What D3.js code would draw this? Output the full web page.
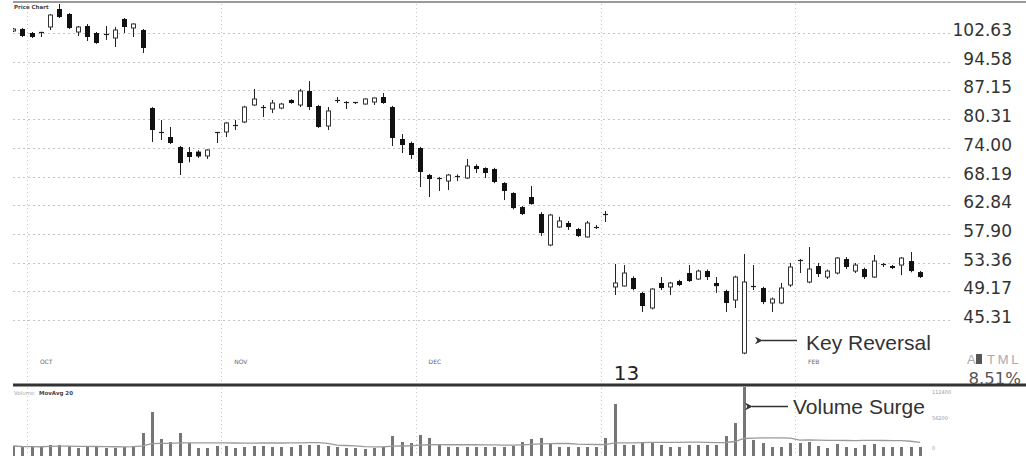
<!DOCTYPE html>
<html><head><meta charset="utf-8">
<script src="https://cdn.jsdelivr.net/npm/d3@7"></script>
<style>html,body{margin:0;padding:0;background:#fff;}svg{display:block;}</style>
</head><body>
<svg id="chart" width="1026" height="456"></svg>
<script>
// ---- data ----
const openP = [103.22,103.81,102.63,102.95,104.40,109.89,108.34,102.92,104.70,102.63,
  102.20,101.18,106.81,104.10,103.51,82.88,77.30,76.31,74.17,73.12,
  73.20,72.29,77.19,77.41,78.80,79.65,83.60,83.20,82.65,82.88,
  84.80,83.60,87.00,83.36,78.74,84.90,84.31,84.20,83.83,84.31,
  85.52,83.12,75.88,75.02,73.96,68.48,67.95,67.32,68.00,67.90,
  70.26,69.86,69.66,66.94,65.06,62.51,64.32,61.28,56.10,59.05,
  59.73,58.72,57.40,59.00,61.00,49.78,49.92,51.07,48.93,46.88,
  50.35,49.78,50.63,51.80,50.92,52.09,50.35,49.21,47.96,41.24,
  49.90,49.63,47.56,47.56,50.06,53.75,50.49,52.84,51.21,51.80,
  53.91,52.09,52.39,51.21,53.20,52.84,52.99,53.60,51.94];
const highP = [104.10,104.10,102.92,103.00,108.30,111.47,108.60,104.70,105.30,102.92,
  104.70,104.40,107.11,105.50,103.81,83.10,80.10,78.52,74.40,74.17,
  73.50,73.70,77.40,79.65,80.10,83.40,87.50,83.60,84.80,84.10,
  85.00,87.50,89.51,83.60,83.12,85.52,84.50,84.30,85.20,85.40,
  86.50,83.40,76.97,75.30,74.17,68.70,68.10,68.70,68.60,71.68,
  70.60,70.00,69.90,67.10,65.20,62.70,66.37,61.60,61.30,60.80,
  60.07,58.90,60.07,59.39,61.81,53.15,52.99,51.30,49.10,49.60,
  51.21,50.50,50.80,52.99,52.30,52.30,51.21,49.40,51.40,54.68,
  52.99,49.80,48.30,50.35,53.30,53.90,55.78,53.30,52.30,54.20,
  54.21,53.30,52.60,54.53,53.30,53.00,54.21,54.99,52.10];
const lowP = [102.92,101.47,101.18,101.47,103.51,107.11,103.81,101.76,100.32,99.50,
  100.60,98.62,102.63,101.47,96.95,75.23,75.66,74.80,68.48,71.00,
  71.90,71.68,75.02,76.31,77.85,79.40,83.40,80.79,81.70,82.60,
  83.90,83.12,82.41,78.30,77.85,84.07,82.65,83.83,83.70,83.60,
  83.90,74.38,72.91,71.68,66.18,64.32,65.43,65.60,67.30,67.70,
  68.87,67.90,66.90,63.77,62.10,61.10,62.90,57.56,55.90,58.90,
  58.55,57.40,57.30,58.72,59.90,48.65,49.85,49.30,46.35,46.70,
  49.35,48.65,49.90,50.50,50.80,50.78,48.93,46.35,46.88,41.10,
  49.35,47.40,46.35,47.40,49.78,51.80,50.30,51.21,50.92,51.60,
  52.39,51.80,50.92,51.07,52.69,52.40,51.50,51.90,51.07];
const closeP = [103.81,101.76,101.47,102.92,108.03,107.42,104.10,104.40,101.47,99.75,
  101.90,103.51,104.40,105.30,98.34,77.85,77.00,75.02,70.86,72.09,
  72.20,73.54,77.30,79.42,79.00,83.12,85.04,83.00,84.07,83.83,
  84.07,87.00,83.12,78.52,82.18,84.70,84.40,84.00,85.04,85.28,
  84.07,76.10,74.59,72.50,69.07,67.71,67.90,68.48,68.20,70.26,
  69.66,68.87,67.13,65.43,62.33,61.28,63.05,58.05,61.10,60.07,
  59.05,57.56,59.73,59.10,61.20,50.35,51.80,49.49,47.15,49.49,
  49.63,50.35,50.06,50.63,52.09,51.21,49.90,47.56,51.21,50.49,
  49.78,47.69,48.10,49.63,52.69,53.80,52.39,51.65,52.09,54.06,
  52.69,52.99,51.21,53.60,53.05,52.54,54.06,52.09,51.21];
const volume = [19000,17400,17400,17400,20600,20600,19000,15800,17400,17400,
  15800,15800,17400,19000,39600,72800,30100,25300,39600,23700,
  15800,15800,19000,19000,15800,17400,19000,19000,17400,17400,
  17400,20600,20600,20600,19000,17400,15800,15800,14200,15800,
  17400,34800,25300,23700,36400,31700,20600,17400,17400,17400,
  17400,17400,17400,17400,19000,25300,30100,31700,23700,17400,
  17400,17400,17400,17400,31700,85500,20600,20600,25300,23700,
  20600,17400,17400,20600,20600,20600,20600,34800,55400,112400,
  28500,23700,17400,17400,23700,23700,25300,19000,15800,22200,
  17400,15800,20600,22200,17400,17400,17400,17400,17400];
const priceTicks = [102.63,94.58,87.15,80.31,74.00,68.19,62.84,57.90,53.36,49.17,45.31];
const monthStarts = [2,23,44,64,85];
const monthLabels = ["OCT","NOV","DEC","13","FEB"];
const volumeTicks = [0,56200,112400];
const maPeriod = 20;

// ---- scales ----
const svg = d3.select("#chart");
svg.append("rect").attr("width",1026).attr("height",456).attr("fill","#fff");
const idx = d3.range(openP.length);
const x = d3.scalePoint().domain(idx).range([13,920]);
const step = x.step();
const y = d3.scaleLog().domain([45.31,102.63]).range([320,33]);
const yv = d3.scaleLinear().domain([0,112400]).range([458,387]);

const defs = svg.append("defs");
defs.append("clipPath").attr("id","cp").append("rect").attr("x",13).attr("y",3).attr("width",940).attr("height",380);
defs.append("clipPath").attr("id","cv").append("rect").attr("x",13).attr("y",387).attr("width",940).attr("height",70);
defs.append("marker").attr("id","ah").attr("viewBox","0 0 10 10").attr("refX",1).attr("refY",5)
  .attr("markerWidth",7).attr("markerHeight",6).attr("orient","auto-start-reverse")
  .append("path").attr("d","M0,5 L10,0 L7,5 L10,10 Z").attr("fill","#333");

// ---- grid ----
const grid = svg.append("g");
grid.selectAll("line.h").data(priceTicks).join("line")
  .attr("x1",13).attr("x2",950)
  .attr("y1",d=>Math.round(y(d))+0.5).attr("y2",d=>Math.round(y(d))+0.5)
  .attr("stroke","#c4c4c4").attr("stroke-dasharray","2,3");
monthStarts.forEach(s=>{
  const gx = Math.round(x(s)-step/2)+0.5;
  grid.append("line").attr("x1",gx).attr("x2",gx).attr("y1",4).attr("y2",383)
    .attr("stroke","#c4c4c4").attr("stroke-dasharray","1,3");
  grid.append("line").attr("x1",gx).attr("x2",gx).attr("y1",388).attr("y2",456)
    .attr("stroke","#c4c4c4").attr("stroke-dasharray","1,3");
});

// ---- frame lines ----
svg.append("line").attr("x1",13).attr("x2",1026).attr("y1",2).attr("y2",2).attr("stroke","#9a9a9a").attr("stroke-width",2);
svg.append("line").attr("x1",13).attr("x2",1026).attr("y1",385).attr("y2",385).attr("stroke","#333").attr("stroke-width",3);

// ---- candles ----
const cg = svg.append("g").attr("clip-path","url(#cp)");
idx.forEach(i=>{
  const cx = Math.round(x(i));
  const yo = y(openP[i]), yc = y(closeP[i]);
  cg.append("line").attr("x1",cx+0.5).attr("x2",cx+0.5).attr("y1",y(highP[i])).attr("y2",y(lowP[i]))
    .attr("stroke","#222").attr("stroke-width",1);
  const top = Math.min(yo,yc), h = Math.abs(yo-yc);
  if (h < 1.5) {
    cg.append("line").attr("x1",cx-2).attr("x2",cx+3).attr("y1",Math.round(top)+0.5).attr("y2",Math.round(top)+0.5)
      .attr("stroke","#222").attr("stroke-width",1.2);
  } else if (closeP[i] < openP[i]) {
    cg.append("rect").attr("x",cx-2).attr("y",top).attr("width",5).attr("height",h).attr("fill","#111");
  } else {
    cg.append("rect").attr("x",cx-1.5).attr("y",top).attr("width",4).attr("height",h)
      .attr("fill","#fff").attr("stroke","#333").attr("stroke-width",1);
  }
});

// ---- price labels ----
svg.append("g").selectAll("text").data(priceTicks).join("text")
  .attr("x",1012).attr("y",d=>y(d)+3).attr("text-anchor","end")
  .attr("font-family","DejaVu Sans").attr("font-size",17).attr("fill","#333")
  .text(d=>d3.format(".2f")(d));

// ---- month labels ----
monthStarts.forEach((s,k)=>{
  const gx = x(s)-step/2;
  if (monthLabels[k]==="13") {
    svg.append("text").attr("x",gx+13).attr("y",380).attr("font-family","DejaVu Sans").attr("font-size",20).attr("fill","#222").text(monthLabels[k]);
  } else {
    svg.append("text").attr("x",gx+13).attr("y",364).attr("font-family","DejaVu Sans").attr("font-size",6).attr("fill","#666").text(monthLabels[k]);
  }
});

// ---- small texts ----
svg.append("text").attr("x",14).attr("y",9).attr("font-family","DejaVu Sans").attr("font-size",5.5).attr("font-weight","bold").attr("fill","#444").text("Price Chart");
svg.append("text").attr("x",967).attr("y",364).attr("font-family","Liberation Sans").attr("font-size",13).attr("fill","#aaa").text("A");
svg.append("rect").attr("x",976).attr("y",354).attr("width",6).attr("height",10).attr("fill","#555");
svg.append("text").attr("x",987).attr("y",364).attr("font-family","Liberation Sans").attr("font-size",13).attr("letter-spacing",2.8).attr("fill","#aaa").text("TML");
svg.append("text").attr("x",1021).attr("y",384).attr("text-anchor","end").attr("font-family","DejaVu Sans").attr("font-size",16.5).attr("fill","#555").text("8.51%");

// ---- volume ----
const vg = svg.append("g").attr("clip-path","url(#cv)");
vg.selectAll("rect").data(idx).join("rect")
  .attr("x",i=>Math.round(x(i))-1).attr("width",3)
  .attr("y",i=>yv(volume[i])).attr("height",i=>yv(0)-yv(volume[i]))
  .attr("fill","#767676");
const ma = idx.map(i=>{
  const w = volume.slice(Math.max(0,i-maPeriod+1), i+1);
  return d3.mean(w);
});
vg.append("path").datum(idx).attr("fill","none").attr("stroke","#9a9a9a").attr("stroke-width",1.3)
  .attr("d", d3.line().x(i=>x(i)).y(i=>yv(ma[i])));
svg.append("text").attr("x",14).attr("y",395).attr("font-family","DejaVu Sans").attr("font-size",5.5).attr("fill","#aaa").text("Volume");
svg.append("text").attr("x",39).attr("y",395).attr("font-family","DejaVu Sans").attr("font-size",5.5).attr("font-weight","bold").attr("fill","#444").text("MovAvg 20");
svg.append("g").selectAll("text").data(volumeTicks).join("text")
  .attr("x",932).attr("y",d=>Math.max(394,Math.min(450,yv(d)-2.5)))
  .attr("font-family","DejaVu Sans").attr("font-size",5).attr("fill","#999")
  .text(d=>d);

// ---- annotations ----
svg.append("line").attr("x1",762).attr("x2",797).attr("y1",340.5).attr("y2",340.5)
  .attr("stroke","#333").attr("stroke-width",1.3).attr("marker-start","url(#ah)");
svg.append("text").attr("x",806).attr("y",350).attr("font-family","Liberation Sans").attr("font-size",21).attr("fill","#333").text("Key Reversal");
svg.append("line").attr("x1",752).attr("x2",788).attr("y1",406.5).attr("y2",406.5)
  .attr("stroke","#333").attr("stroke-width",1.3).attr("marker-start","url(#ah)");
svg.append("text").attr("x",793).attr("y",414).attr("font-family","Liberation Sans").attr("font-size",21).attr("fill","#333").text("Volume Surge");
</script>
</body></html>
